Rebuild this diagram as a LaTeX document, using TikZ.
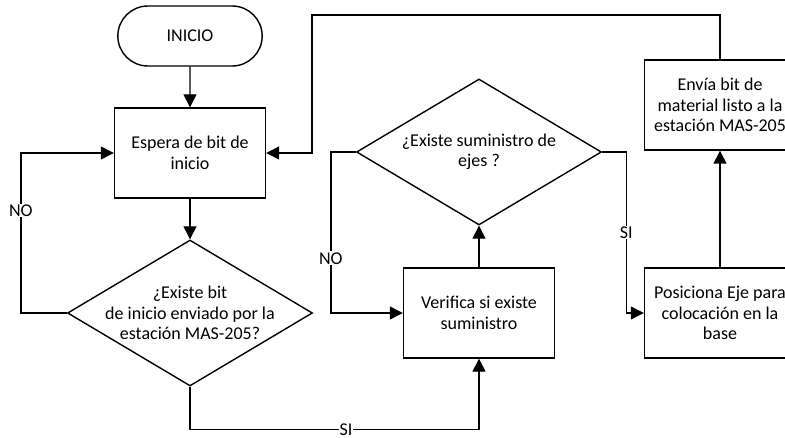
\documentclass[tikz,border=0pt]{standalone}
\usepackage{fontspec}
\setmainfont{Carlito}
\usetikzlibrary{arrows.meta,positioning,shapes.geometric,shapes.misc}

\begin{document}
\begin{tikzpicture}[x=1pt,y=1pt,
  every node/.style={font=\fontsize{18}{20.5}\selectfont},
  proc/.style={draw,line width=1.4pt,minimum width=151pt,minimum height=90pt,align=center,inner sep=2pt},
  decision/.style={draw,diamond,line width=1.4pt,minimum width=245pt,minimum height=146pt,aspect=1.68,inner sep=-4pt,align=center},
  term/.style={draw,rounded rectangle,line width=1.4pt,minimum width=151pt,minimum height=60pt},
  flow/.style={line width=1.4pt,-{Triangle[length=13pt,width=13pt]}},
  lbl/.style={fill=white,inner sep=1pt}]
  \useasboundingbox (0,0) rectangle (785,437);
  \clip (0,0) rectangle (785,437);
  % bloques
  \node[term] (inicio) at (190,401) {INICIO};
  \node[proc] (espera) at (190,284) {Espera de bit de\\inicio};
  \node[decision] (bit) at (190,124) {¿Existe bit\\de inicio enviado por la\\estación MAS-205?};
  \node[proc] (verifica) at (479,124) {Verifica si existe\\suministro};
  \node[decision] (ejes) at (479,285) {¿Existe suministro de\\ejes ?};
  \node[proc] (posiciona) at (720,124) {Posiciona Eje para\\colocación en la\\base};
  \node[proc] (envia) at (720,332) {Envía bit de\\material listo a la\\estación MAS-205};
  \coordinate (regreso) at (312,422);
  % flechas
  \draw[flow] (inicio) -- (espera);
  \draw[flow] (espera) -- (bit);
  \draw[flow] (bit.west) -- ++(-46,0) |- (espera.west) node[pos=0.32,lbl] {NO};
  \draw[flow] (bit.south) -- ++(0,-43) -| (verifica.south) node[pos=0.27,lbl] {SI};
  \draw[flow] (verifica) -- (ejes);
  \draw[flow] (ejes.west) -- ++(-25,0) |- (verifica.west) node[pos=0.33,lbl] {NO};
  \draw[flow] (ejes.east) -- ++(24,0) |- (posiciona.west) node[pos=0.25,lbl] {SI};
  \draw[flow] (posiciona) -- (envia);
  \draw[flow] (envia.north) |- (regreso) |- (espera.east);
\end{tikzpicture}
\end{document}
